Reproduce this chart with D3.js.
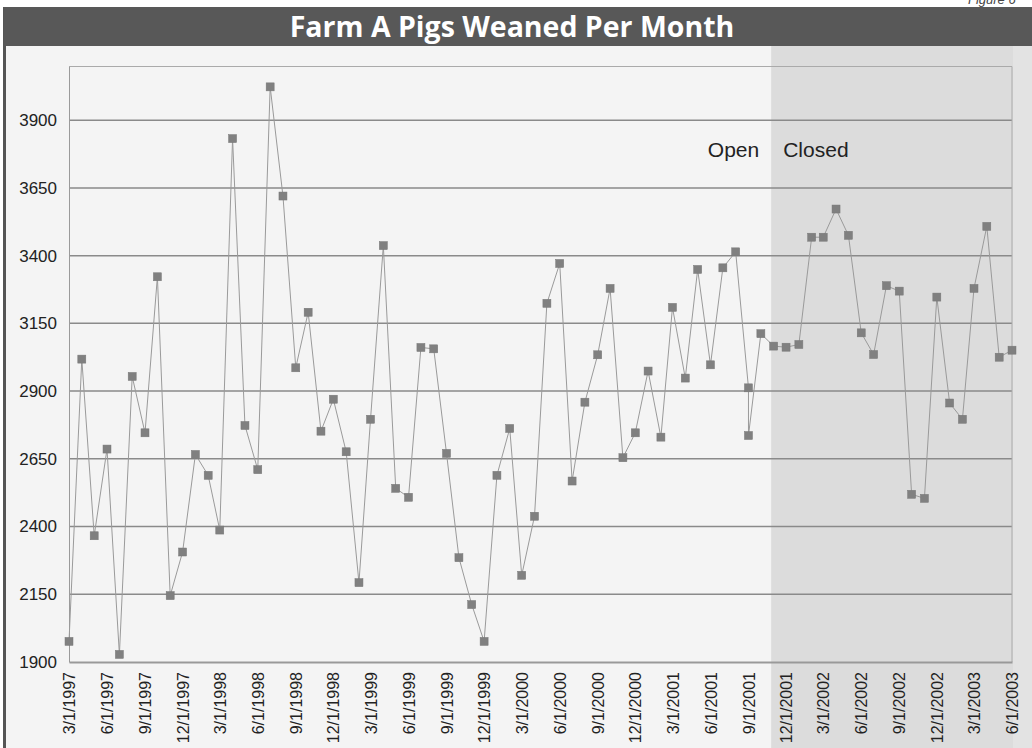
<!DOCTYPE html>
<html>
<head>
<meta charset="utf-8">
<script src="https://d3js.org/d3.v7.min.js"></script>
<style>
  body { margin: 0; background: #ffffff; }
  #chart { width: 1032px; height: 748px; overflow: hidden; }
</style>
</head>
<body>
<div id="chart"></div>
<script>
// Data
var months = [
  "3/1/1997","4/1/1997","5/1/1997","6/1/1997","7/1/1997","8/1/1997","9/1/1997","10/1/1997","11/1/1997","12/1/1997",
  "1/1/1998","2/1/1998","3/1/1998","4/1/1998","5/1/1998","6/1/1998","7/1/1998","8/1/1998","9/1/1998","10/1/1998","11/1/1998","12/1/1998",
  "1/1/1999","2/1/1999","3/1/1999","4/1/1999","5/1/1999","6/1/1999","7/1/1999","8/1/1999","9/1/1999","10/1/1999","11/1/1999","12/1/1999",
  "1/1/2000","2/1/2000","3/1/2000","4/1/2000","5/1/2000","6/1/2000","7/1/2000","8/1/2000","9/1/2000","10/1/2000","11/1/2000","12/1/2000",
  "1/1/2001","2/1/2001","3/1/2001","4/1/2001","5/1/2001","6/1/2001","7/1/2001","8/1/2001","9/1/2001","9/1/2001","10/1/2001","11/1/2001","12/1/2001",
  "1/1/2002","2/1/2002","3/1/2002","4/1/2002","5/1/2002","6/1/2002","7/1/2002","8/1/2002","9/1/2002","10/1/2002","11/1/2002","12/1/2002",
  "1/1/2003","2/1/2003","3/1/2003","4/1/2003","5/1/2003","6/1/2003"
];
var pigsWeaned = [
  1976, 3018, 2366, 2686, 1928, 2954, 2746, 3322, 2145, 2306,
  2666, 2589, 2387, 3832, 2773, 2610, 4023, 3620, 2986, 3191, 2752, 2870,
  2676, 2193, 2796, 3437, 2541, 2508, 3061, 3056, 2670, 2285, 2112, 1976,
  2589, 2762, 2220, 2438, 3224, 3371, 2568, 2859, 3034, 3279, 2654, 2746,
  2974, 2730, 3209, 2948, 3349, 2997, 3355, 3414, 2912, 2736, 3112, 3066, 3062,
  3072, 3468, 3468, 3572, 3475, 3115, 3035, 3289, 3269, 2519, 2504, 3247,
  2856, 2796, 3279, 3508, 3025, 3051
];
var xTickLabels = [
  "3/1/1997","6/1/1997","9/1/1997","12/1/1997","3/1/1998","6/1/1998","9/1/1998","12/1/1998",
  "3/1/1999","6/1/1999","9/1/1999","12/1/1999","3/1/2000","6/1/2000","9/1/2000","12/1/2000",
  "3/1/2001","6/1/2001","9/1/2001","12/1/2001","3/1/2002","6/1/2002","9/1/2002","12/1/2002",
  "3/1/2003","6/1/2003"
];
var yTicks = [1900, 2150, 2400, 2650, 2900, 3150, 3400, 3650, 3900];
var yRange = [1900, 4100];
var closedFrom = "10/26/2001";
var chartTitle = "Farm A Pigs Weaned Per Month";

var svgWidth = 1032;
var svgHeight = 748;
var margin = { top: 66, right: 20, bottom: 86, left: 69 };
var width = svgWidth - margin.left - margin.right;
var height = svgHeight - margin.top - margin.bottom;

var parseDate = d3.timeParse("%m/%d/%Y");
var data = months.map(function(m, i) {
  return { date: parseDate(m), value: pigsWeaned[i] };
});

var svg = d3.select("#chart")
  .append("svg")
  .attr("width", svgWidth)
  .attr("height", svgHeight)
  .style("font-family", "'Liberation Sans', Arial, sans-serif");

// Step 1: scales
var xTimeScale = d3.scaleTime()
  .domain([parseDate(months[0]), parseDate(months[months.length - 1])])
  .range([0, width]);
var yLinearScale = d3.scaleLinear()
  .domain(yRange)
  .range([height, 0]);

var closedX = margin.left + xTimeScale(parseDate(closedFrom));

// Step 2: backgrounds (open / closed periods)
svg.append("rect")
  .attr("x", 4).attr("y", 46)
  .attr("width", svgWidth - 4).attr("height", svgHeight - 46)
  .attr("fill", "#f4f4f4");
svg.append("rect")
  .attr("x", closedX).attr("y", 46)
  .attr("width", svgWidth - closedX).attr("height", svgHeight - 46)
  .attr("fill", "#dcdcdc");
svg.append("rect")
  .attr("x", margin.left + width + 1).attr("y", 46)
  .attr("width", margin.right).attr("height", svgHeight - 46)
  .attr("fill", "#e3e3e3");
svg.append("rect")
  .attr("x", 3).attr("y", 7)
  .attr("width", 3).attr("height", svgHeight - 7)
  .attr("fill", "#555555");

// title bar
svg.append("rect")
  .attr("x", 4).attr("y", 7)
  .attr("width", svgWidth - 4).attr("height", 39)
  .attr("fill", "#585858");
svg.append("text")
  .attr("x", 512).attr("y", 37)
  .attr("text-anchor", "middle")
  .style("font-family", "'Open Sans', sans-serif")
  .style("font-weight", "bold")
  .style("font-size", "28.5px")
  .attr("fill", "#ffffff")
  .text(chartTitle);
svg.append("text")
  .attr("x", 968).attr("y", 4)
  .style("font-size", "13px")
  .style("font-style", "italic")
  .attr("fill", "#444")
  .text("Figure 6");

var chartGroup = svg.append("g")
  .attr("transform", `translate(${margin.left}, ${margin.top})`);

// Step 3: gridlines and y labels
chartGroup.append("g")
  .selectAll("line")
  .data(yTicks.slice(1))
  .enter()
  .append("line")
    .attr("x1", 0).attr("x2", width)
    .attr("y1", d => yLinearScale(d)).attr("y2", d => yLinearScale(d))
    .attr("stroke", "#8a8a8a")
    .attr("stroke-width", 1.5);

var leftAxis = d3.axisLeft(yLinearScale)
  .tickValues(yTicks)
  .tickFormat(d3.format("d"))
  .tickSize(0)
  .tickPadding(12);
var yAxisG = chartGroup.append("g").call(leftAxis);
yAxisG.select(".domain").attr("stroke", "#9a9a9a");
yAxisG.selectAll("text")
  .style("font-family", "'Liberation Sans', Arial, sans-serif")
  .style("font-size", "17px")
  .attr("fill", "#222");

// plot border top / right
chartGroup.append("path")
  .attr("d", `M0,0.5H${width}V${height}`)
  .attr("fill", "none")
  .attr("stroke", "#aaaaaa");

// Step 4: x axis
var bottomAxis = d3.axisBottom(xTimeScale)
  .tickValues(xTickLabels.map(parseDate))
  .tickSize(0)
  .tickFormat(function(d, i) { return xTickLabels[i]; });
var xAxisG = chartGroup.append("g")
  .attr("transform", `translate(0, ${height})`)
  .call(bottomAxis);
xAxisG.select(".domain").attr("stroke", "#999999").attr("stroke-width", 2);
xAxisG.selectAll("text")
  .style("font-family", "'Liberation Sans', Arial, sans-serif")
  .style("font-size", "16px")
  .attr("fill", "#222")
  .attr("text-anchor", "end")
  .attr("transform", "rotate(-90)")
  .attr("x", -10)
  .attr("y", 0)
  .attr("dy", "0.35em");

// Step 5: line and markers
var line = d3.line()
  .x(d => xTimeScale(d.date))
  .y(d => yLinearScale(d.value));
chartGroup.append("path")
  .datum(data)
  .attr("d", line)
  .attr("fill", "none")
  .attr("stroke", "#9a9a9a")
  .attr("stroke-width", 1);

var markerSize = 8;
chartGroup.selectAll("rect.pt")
  .data(data)
  .enter()
  .append("rect")
    .attr("class", "pt")
    .attr("x", d => xTimeScale(d.date) - markerSize / 2)
    .attr("y", d => yLinearScale(d.value) - markerSize / 2)
    .attr("width", markerSize)
    .attr("height", markerSize)
    .attr("fill", "#808080")
    .attr("stroke", "#777777")
    .attr("stroke-width", 0.5);

// Step 6: period labels
svg.append("text")
  .attr("x", closedX - 12).attr("y", 157)
  .attr("text-anchor", "end")
  .style("font-size", "21px")
  .attr("fill", "#222")
  .text("Open");
svg.append("text")
  .attr("x", closedX + 12).attr("y", 157)
  .style("font-size", "21px")
  .attr("fill", "#222")
  .text("Closed");
</script>
</body>
</html>
